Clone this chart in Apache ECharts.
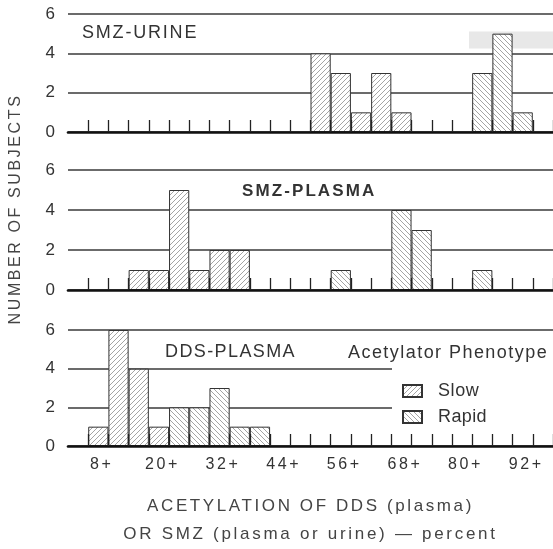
<!DOCTYPE html>
<html>
<head>
<meta charset="utf-8">
<script src="https://cdn.jsdelivr.net/npm/echarts@6/dist/echarts.min.js"></script>
<style>
html,body{margin:0;padding:0;background:#fff;}
#chart{width:553px;height:549px;}
</style>
</head>
<body>
<div id="chart"></div>
<script>
// ---- data ----
const bins = ['4+','8+','12+','16+','20+','24+','28+','32+','36+','40+','44+','48+',
              '52+','56+','60+','64+','68+','72+','76+','80+','84+','88+','92+','96+'];
const N = null;
const urineSlow      = [N,N,N,N,N,N,N,N,N,N,N,N,4,3,1,3,1,N,N,N,N,N,N,N];
const urineRapid     = [N,N,N,N,N,N,N,N,N,N,N,N,N,N,N,N,N,N,N,N,3,5,1,N];
const smzPlasmaSlow  = [N,N,N,1,1,5,1,2,2,N,N,N,N,N,N,N,N,N,N,N,N,N,N,N];
const smzPlasmaRapid = [N,N,N,N,N,N,N,N,N,N,N,N,N,1,N,N,4,3,N,N,1,N,N,N];
const ddsSlow        = [N,1,6,4,1,N,N,N,N,N,N,N,N,N,N,N,N,N,N,N,N,N,N,N];
const ddsRapid       = [N,N,N,N,N,2,2,3,1,1,N,N,N,N,N,N,N,N,N,N,N,N,N,N];
const yTicks = [0, 2, 4, 6];
const panelNames = ['SMZ-URINE', 'SMZ-PLASMA', 'DDS-PLASMA'];

// ---- letter spacing for spaced-out typography ----
const SPACING = {
  'SMZ-URINE': 1.8, 'SMZ-PLASMA': 2.1, 'DDS-PLASMA': 1.4,
  'Acetylator Phenotype': 1.45,
  'ACETYLATION OF DDS (plasma)': 2.6,
  'OR SMZ (plasma or urine) — percent': 2.7,
  'NUMBER OF SUBJECTS': 2.6, 'Slow': 0.6, 'Rapid': 0.4
};
const origFill = CanvasRenderingContext2D.prototype.fillText;
CanvasRenderingContext2D.prototype.fillText = function (t, x, y, w) {
  const ls = SPACING[t];
  if (ls !== undefined && 'letterSpacing' in this) {
    const prev = this.letterSpacing;
    this.letterSpacing = ls + 'px';
    const r = w === undefined ? origFill.call(this, t, x, y) : origFill.call(this, t, x, y, w);
    this.letterSpacing = prev;
    return r;
  }
  return w === undefined ? origFill.call(this, t, x, y) : origFill.call(this, t, x, y, w);
};

// ---- hatch patterns ----
function hatch(forward) {
  const s = 5;
  const c = document.createElement('canvas');
  c.width = s; c.height = s;
  const g = c.getContext('2d');
  g.fillStyle = '#ffffff';
  g.fillRect(0, 0, s, s);
  g.strokeStyle = '#9a9a9a';
  g.lineWidth = 0.9;
  g.beginPath();
  if (forward) {
    g.moveTo(-1, s + 1); g.lineTo(s + 1, -1);
    g.moveTo(-1, 1); g.lineTo(1, -1);
    g.moveTo(s - 1, s + 1); g.lineTo(s + 1, s - 1);
  } else {
    g.moveTo(-1, -1); g.lineTo(s + 1, s + 1);
    g.moveTo(-1, s - 1); g.lineTo(1, s + 1);
    g.moveTo(s - 1, -1); g.lineTo(s + 1, 1);
  }
  g.stroke();
  return { image: c, repeat: 'repeat' };
}
const slowFill = hatch(true);
const rapidFill = hatch(false);

const FONT = "'Liberation Sans', Arial, Helvetica, sans-serif";
const TXT = '#333';

const grids = [
  { left: 68, right: 0, top: 14, height: 118 },
  { left: 68, right: 0, top: 170, height: 120 },
  { left: 68, right: 0, top: 330, height: 120 }
];

const xAxes = grids.map((g, i) => ({
  type: 'category',
  gridIndex: i,
  data: bins,
  boundaryGap: true,
  z: 3,
  axisLine: { show: true, lineStyle: { color: '#111', width: 2.6 } },
  axisTick: {
    show: true, inside: true, length: 12,
    interval: function (idx) { return idx > 0; },
    lineStyle: { color: '#222', width: 1.3 }
  },
  axisLabel: {
    show: i === 2,
    interval: function (idx) { return (idx - 1) % 3 === 0; },
    color: TXT, fontSize: 16, fontFamily: FONT, margin: 11,
    padding: [0, 0, 0, 7]
  },
  splitLine: { show: false },
  name: i === 2 ? 'ACETYLATION OF DDS (plasma)\nOR SMZ (plasma or urine) — percent' : '',
  nameLocation: 'middle',
  nameGap: 46,
  nameTextStyle: { color: '#444', fontSize: 17, fontFamily: FONT, lineHeight: 28 }
}));

const yAxes = grids.map((g, i) => ({
  type: 'value',
  gridIndex: i,
  min: yTicks[0], max: yTicks[yTicks.length - 1], interval: yTicks[1] - yTicks[0],
  axisLine: { show: false },
  axisTick: { show: false },
  axisLabel: { color: TXT, fontSize: 17, fontFamily: FONT, margin: 13 },
  splitLine: { show: true, lineStyle: { color: '#3a3a3a', width: 1.5 } }
}));

const panelData = [
  [urineSlow, urineRapid],
  [smzPlasmaSlow, smzPlasmaRapid],
  [ddsSlow, ddsRapid]
];

const series = [];
panelData.forEach((pair, i) => {
  series.push({
    name: 'Slow', type: 'bar', xAxisIndex: i, yAxisIndex: i, stack: 'p' + i,
    data: pair[0], barCategoryGap: '0%', barGap: '0%',
    itemStyle: { color: slowFill, borderColor: '#333', borderWidth: 1 },
    emphasis: { disabled: true }
  });
  series.push({
    name: 'Rapid', type: 'bar', xAxisIndex: i, yAxisIndex: i, stack: 'p' + i,
    data: pair[1], barCategoryGap: '0%', barGap: '0%',
    itemStyle: { color: rapidFill, borderColor: '#333', borderWidth: 1 },
    emphasis: { disabled: true }
  });
});

const labelFont = (size, weight) => (weight || 'normal') + ' ' + size + 'px ' + FONT;

const chart = echarts.init(document.getElementById('chart'), null, { renderer: 'canvas' });
chart.setOption({
  animation: false,
  backgroundColor: '#fff',
  grid: grids,
  xAxis: xAxes,
  yAxis: yAxes,
  series: series,
  legend: {
    data: ['Slow', 'Rapid'],
    orient: 'vertical',
    left: 402, top: 382,
    padding: 0,
    itemWidth: 19, itemHeight: 12, itemGap: 8,
    icon: 'rect',
    selectedMode: false,
    textStyle: { color: TXT, fontSize: 18, fontFamily: FONT, padding: [0, 0, 0, 11] }
  },
  graphic: [
    // scan artifact (light grey patch) in the top panel
    { type: 'rect', z: 1, silent: true, shape: { x: 469, y: 31.5, width: 84, height: 17 },
      style: { fill: '#e8e8e8' } },
    // legend area blanks the short grid lines
    { type: 'rect', z: 1, silent: true, shape: { x: 392, y: 360, width: 161, height: 68 },
      style: { fill: '#fff' } },
    { type: 'text', z: 10, silent: true, x: 82, y: 33.5,
      style: { text: panelNames[0], font: labelFont(18), fill: TXT, textAlign: 'left', textVerticalAlign: 'middle' } },
    { type: 'text', z: 10, silent: true, x: 242, y: 191.5,
      style: { text: panelNames[1], font: labelFont(17, 'bold'), fill: TXT, textAlign: 'left', textVerticalAlign: 'middle' } },
    { type: 'text', z: 10, silent: true, x: 165, y: 352,
      style: { text: panelNames[2], font: labelFont(18), fill: TXT, textAlign: 'left', textVerticalAlign: 'middle' } },
    { type: 'text', z: 10, silent: true, x: 348, y: 353,
      style: { text: 'Acetylator Phenotype', font: labelFont(18), fill: TXT, textAlign: 'left', textVerticalAlign: 'middle' } },
    { type: 'text', z: 10, silent: true, x: 16, y: 209, rotation: Math.PI / 2,
      style: { text: 'NUMBER OF SUBJECTS', font: labelFont(16), fill: '#444', textAlign: 'center', textVerticalAlign: 'middle' } }
  ]
});
</script>
</body>
</html>
